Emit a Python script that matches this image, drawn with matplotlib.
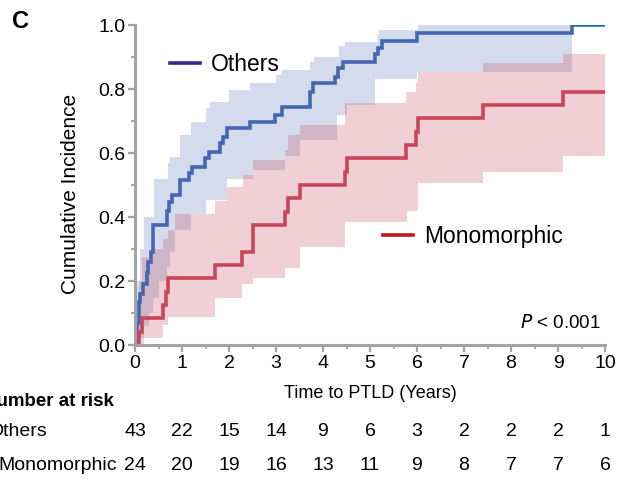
import numpy as np
import matplotlib
matplotlib.use("Agg")
import matplotlib.pyplot as plt
from matplotlib.lines import Line2D

plt.rcParams['font.family'] = ['Liberation Sans', 'DejaVu Sans']

# ---- cumulative incidence estimates (step functions, value holds until next time) ----
others_t = [0.0, 0.05, 0.08, 0.11, 0.18, 0.25, 0.28, 0.33, 0.38, 0.69, 0.73, 0.78,
            0.96, 1.14, 1.21, 1.49, 1.57, 1.81, 1.88, 1.95, 2.45, 2.98, 3.13,
            3.72, 3.79, 4.26, 4.32, 4.43, 5.11, 5.17, 5.25, 6.0, 9.3]
others_v = [0.0, 0.07, 0.135, 0.16, 0.19, 0.225, 0.26, 0.29, 0.375, 0.42, 0.448, 0.469,
            0.516, 0.537, 0.557, 0.583, 0.604, 0.63, 0.651, 0.677, 0.698, 0.719, 0.745,
            0.79, 0.818, 0.838, 0.865, 0.885, 0.91, 0.927, 0.95, 0.976, 1.0]
others_end = 10.0

others_hi_t = [0.0, 0.03, 0.1, 0.2, 0.4, 0.7, 0.75, 0.96, 1.2, 1.52, 1.6, 1.99, 2.45,
               3.0, 3.12, 3.72, 3.8, 4.33, 4.47, 5.14, 5.2, 6.02]
others_hi_v = [0.0, 0.2, 0.3, 0.4, 0.52, 0.57, 0.589, 0.656, 0.698, 0.74, 0.76, 0.797, 0.818,
               0.844, 0.86, 0.885, 0.9, 0.934, 0.948, 0.969, 0.984, 1.0]
others_lo_t = [0.0, 0.2, 0.3, 0.38, 0.5, 0.69, 0.75, 0.85, 1.2, 1.52, 1.95, 2.5, 3.2,
               3.5, 4.3, 4.5, 5.1, 6.0]
others_lo_v = [0.0, 0.06, 0.1, 0.146, 0.2, 0.245, 0.29, 0.36, 0.41, 0.453, 0.52, 0.547, 0.59,
               0.64, 0.72, 0.75, 0.83, 0.854]
others_band_end = 9.3

mono_t = [0.0, 0.08, 0.15, 0.6, 0.66, 0.7, 1.7, 2.27, 2.5, 3.19, 3.25, 3.5, 4.47, 4.5,
          5.77, 5.98, 6.03, 7.41, 9.11]
mono_v = [0.0, 0.042, 0.083, 0.125, 0.167, 0.208, 0.25, 0.292, 0.375, 0.417, 0.458, 0.5,
          0.542, 0.583, 0.625, 0.667, 0.708, 0.75, 0.792]
mono_end = 10.0

mono_hi_t = [0.0, 0.08, 0.15, 0.35, 0.6, 0.7, 0.85, 1.7, 1.95, 2.3, 2.5, 3.2, 3.25, 3.5,
             4.47, 5.77, 5.98, 6.03, 7.41, 9.11]
mono_hi_v = [0.0, 0.2, 0.276, 0.3, 0.33, 0.36, 0.41, 0.45, 0.495, 0.53, 0.578, 0.61, 0.656,
             0.687, 0.757, 0.79, 0.82, 0.854, 0.88, 0.91]
mono_lo_t = [0.0, 0.1, 0.6, 0.7, 1.7, 2.27, 2.5, 3.2, 3.5, 4.47, 5.78, 6.03, 7.41, 9.11]
mono_lo_v = [0.0, 0.022, 0.0625, 0.088, 0.146, 0.19, 0.208, 0.24, 0.307, 0.385, 0.42, 0.505,
             0.54, 0.59]
mono_band_end = 10.0

risk_times = [0, 1, 2, 3, 4, 5, 6, 7, 8, 9, 10]
risk_others = [43, 22, 15, 14, 9, 6, 3, 2, 2, 2, 1]
risk_mono = [24, 20, 19, 16, 13, 11, 9, 8, 7, 7, 6]

x_ticks = np.arange(0, 11, 1)
y_ticks = np.arange(0, 1.01, 0.2)

# ---- colours ----
BLUE = '#4467b1'
BLUE_END = '#1c6fc0'
RED = '#c94559'
BLUE_BAND = (68 / 255, 102 / 255, 176 / 255, 0.235)
RED_BAND = (200 / 255, 70 / 255, 90 / 255, 0.25)
LEG_BLUE = '#2e2a8c'
LEG_RED = '#c4161c'
AXIS_GREY = '#a3a3a3'


def step_eval(t, v, grid):
    idx = np.searchsorted(np.asarray(t), grid, side='right') - 1
    return np.asarray(v)[np.clip(idx, 0, len(v) - 1)]


def band(ax, lo_t, lo_v, hi_t, hi_v, end, color):
    grid = np.union1d(lo_t, hi_t)
    grid = np.append(grid[grid < end], end)
    lo = step_eval(lo_t, lo_v, grid)
    hi = step_eval(hi_t, hi_v, grid)
    ax.fill_between(grid, lo, hi, step='post', color=color, linewidth=0)


fig = plt.figure(figsize=(6.3, 4.79), dpi=100)
ax = fig.add_axes([135 / 630, 1 - 345 / 479, 470 / 630, 320 / 479])

band(ax, others_lo_t, others_lo_v, others_hi_t, others_hi_v, others_band_end, BLUE_BAND)
band(ax, mono_lo_t, mono_lo_v, mono_hi_t, mono_hi_v, mono_band_end, RED_BAND)

# Others: main curve up to its last event, last level drawn to end of follow-up
ax.step(others_t, others_v, where='post', color=BLUE, lw=2.6, solid_joinstyle='miter')
ax.plot([others_t[-1], others_end], [others_v[-1], others_v[-1]], color=BLUE_END, lw=2.6,
        solid_capstyle='butt')
ax.step(mono_t + [mono_end], mono_v + [mono_v[-1]], where='post', color=RED, lw=2.6,
        solid_joinstyle='miter')

ax.set_xlim(0, 10)
ax.set_ylim(0, 1.0)
ax.set_xticks(x_ticks)
ax.set_yticks(y_ticks)
ax.set_yticklabels([f'{v:.1f}' for v in y_ticks])
ax.set_xticks(np.arange(0.5, 10, 1), minor=True)
ax.set_yticks(np.arange(0.1, 1.0, 0.2), minor=True)

for side in ('top', 'right'):
    ax.spines[side].set_visible(False)
for side in ('left', 'bottom'):
    ax.spines[side].set_color(AXIS_GREY)
    ax.spines[side].set_linewidth(2.2)
ax.tick_params(which='major', length=5, width=1.6, color=AXIS_GREY, labelsize=14, pad=2)
ax.tick_params(which='minor', length=3, width=1.4, color=AXIS_GREY)

ax.set_ylabel('Cumulative Incidence', fontsize=15, va='center')
ax.yaxis.set_label_coords((70 - 135) / 470, (345 - 194) / 320)
ax.set_xlabel('Time to PTLD (Years)', fontsize=13, va='center')
ax.xaxis.set_label_coords(0.5, (345 - 393) / 320)

# legends
leg1 = ax.legend(handles=[Line2D([], [], color=LEG_BLUE, lw=2.6)], labels=['Others'],
                 loc='center left', bbox_to_anchor=(0.055, 0.876), frameon=False,
                 fontsize=16.5, handlelength=1.3, handletextpad=0.5, borderaxespad=0)
ax.add_artist(leg1)
ax.legend(handles=[Line2D([], [], color=LEG_RED, lw=2.6)], labels=['Monomorphic'],
          loc='center left', bbox_to_anchor=(0.508, 0.34), frameon=False,
          fontsize=16.5, handlelength=1.3, handletextpad=0.5, borderaxespad=0)

ax.text(0.99, 0.07, r'$\it{P}$ < 0.001', transform=ax.transAxes, ha='right',
        va='center', fontsize=13.5)

fig.text(12 / 630, 1 - 21 / 479, 'C', fontsize=17, fontweight='bold', va='center')

# number-at-risk table
xt = ax.get_xaxis_transform()
fig.text(114 / 630, 1 - 401 / 479, 'Number at risk', ha='right', va='center',
         fontsize=13.5, fontweight='bold')
fig.text(47 / 630, 1 - 432 / 479, 'Others', ha='right', va='center', fontsize=14)
fig.text(117 / 630, 1 - 465 / 479, 'Monomorphic', ha='right', va='center', fontsize=14)
for t, a, b in zip(risk_times, risk_others, risk_mono):
    ax.text(t, (345 - 432) / 320, str(a), transform=xt, ha='center', va='center',
            fontsize=14, clip_on=False)
    ax.text(t, (345 - 465) / 320, str(b), transform=xt, ha='center', va='center',
            fontsize=14, clip_on=False)

fig.savefig('out.png', dpi=100)
